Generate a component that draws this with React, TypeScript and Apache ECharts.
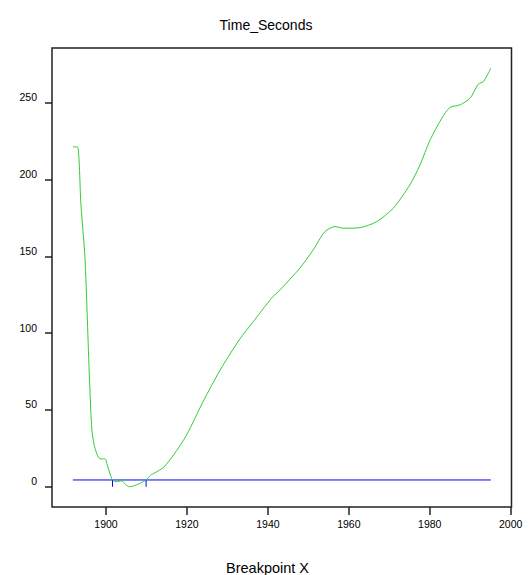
import React, { useEffect, useRef } from "react";
import * as echarts from "echarts";

const years = [
  1891.85, 1892.95, 1893.8, 1894.8, 1895.9, 1896.5, 1897.0, 1897.4, 1898.1, 1899.0,
  1899.75, 1900.2, 1900.9, 1901.6, 1902.5, 1903.2, 1903.9, 1904.8, 1905.8, 1906.7,
  1908.4, 1909.9, 1911.0, 1912.1, 1914.2, 1916.7, 1919.9, 1924.0, 1928.2, 1932.9,
  1936.4, 1940.9, 1943.0, 1947.9, 1951.2, 1954.1, 1956.6, 1958.6, 1962.8, 1966.9,
  1971.0, 1975.1, 1977.6, 1980.1, 1983.0, 1985.0, 1987.5, 1990.0, 1992.0, 1993.3,
  1995.1,
];
const timeSeconds = [
  221.4, 221.4, 183.6, 149, 70.8, 37, 28, 24, 19.2, 18,
  18.3, 15.2, 9, 4.4, 3.3, 3.5, 3.9, 1.5, 0, 0.4,
  2.2, 4.4, 7.5, 9.1, 12.6, 20.7, 33.7, 55.5, 76, 95.6,
  107.6, 122.8, 128.2, 142.4, 154.3, 166.2, 169.5, 168.4, 168.8, 172.7,
  181.5, 196.7, 209.7, 226, 240.1, 247.1, 248.8, 253.2, 262.3, 264,
  272.7,
];
const baselineYears = [1891.8, 1995.1];
const baselineValue = 4.4;
const markerYears = [1901.6, 1909.9];
const xTicks = [1900, 1920, 1940, 1960, 1980, 2000];
const yTicks = [0, 50, 100, 150, 200, 250];

export default function App() {
  const ref = useRef<HTMLDivElement>(null);
  useEffect(() => {
    if (!ref.current) return;
    const chart = echarts.init(ref.current, null, { renderer: "svg" });
    const font = "Arial, 'Liberation Sans', sans-serif";
    const series: any[] = [
      {
        type: "line",
        data: years.map((y, i) => [y, timeSeconds[i]]),
        showSymbol: false,
        smooth: 0.25,
        lineStyle: { color: "#33cc33", width: 1 },
        z: 3,
      },
      {
        type: "line",
        data: baselineYears.map((y) => [y, baselineValue]),
        showSymbol: false,
        lineStyle: { color: "#0000ff", width: 1 },
        z: 2,
      },
      ...markerYears.map((y) => ({
        type: "line",
        data: [
          [y, baselineValue],
          [y, 0],
        ],
        showSymbol: false,
        lineStyle: { color: "#0000ff", width: 1 },
        z: 2,
      })),
    ];
    chart.setOption({
      animation: false,
      backgroundColor: "#ffffff",
      title: {
        text: "Time_Seconds",
        left: "center",
        top: 13,
        textStyle: { fontFamily: font, fontSize: 14, fontWeight: "normal", color: "#000" },
      },
      graphic: [
        {
          type: "text",
          left: 226,
          top: 560,
          style: { text: "Breakpoint X", fontFamily: font, fontSize: 14.5, fill: "#000" },
        },
      ],
      grid: {
        left: 52,
        right: 20.5,
        top: 48,
        bottom: 68,
        show: true,
        borderColor: "#222",
        borderWidth: 1.5,
        backgroundColor: "transparent",
      },
      xAxis: {
        type: "value",
        min: 1886.65,
        max: 2000.2,
        axisLine: { show: false, onZero: false },
        splitLine: { show: false },
        axisTick: {
          show: true,
          length: 8,
          customValues: xTicks,
          lineStyle: { color: "#222", width: 1.5 },
        },
        axisLabel: {
          customValues: xTicks,
          margin: 11,
          formatter: (v: number) => String(v),
          fontFamily: font,
          fontSize: 10.5,
          color: "#000",
        },
      },
      yAxis: {
        type: "value",
        min: -13.2,
        max: 285.8,
        axisLine: { show: false, onZero: false },
        splitLine: { show: false },
        axisTick: {
          show: true,
          length: 7,
          customValues: yTicks,
          lineStyle: { color: "#222", width: 1.5 },
        },
        axisLabel: {
          customValues: yTicks,
          margin: 15,
          verticalAlign: "bottom",
          formatter: (v: number) => String(v),
          fontFamily: font,
          fontSize: 10.5,
          color: "#000",
        },
      },
      series,
    });
    return () => chart.dispose();
  }, []);
  return (
    <div
      ref={ref}
      style={{ position: "fixed", left: 0, top: 0, width: 532, height: 575, background: "#fff" }}
    />
  );
}
